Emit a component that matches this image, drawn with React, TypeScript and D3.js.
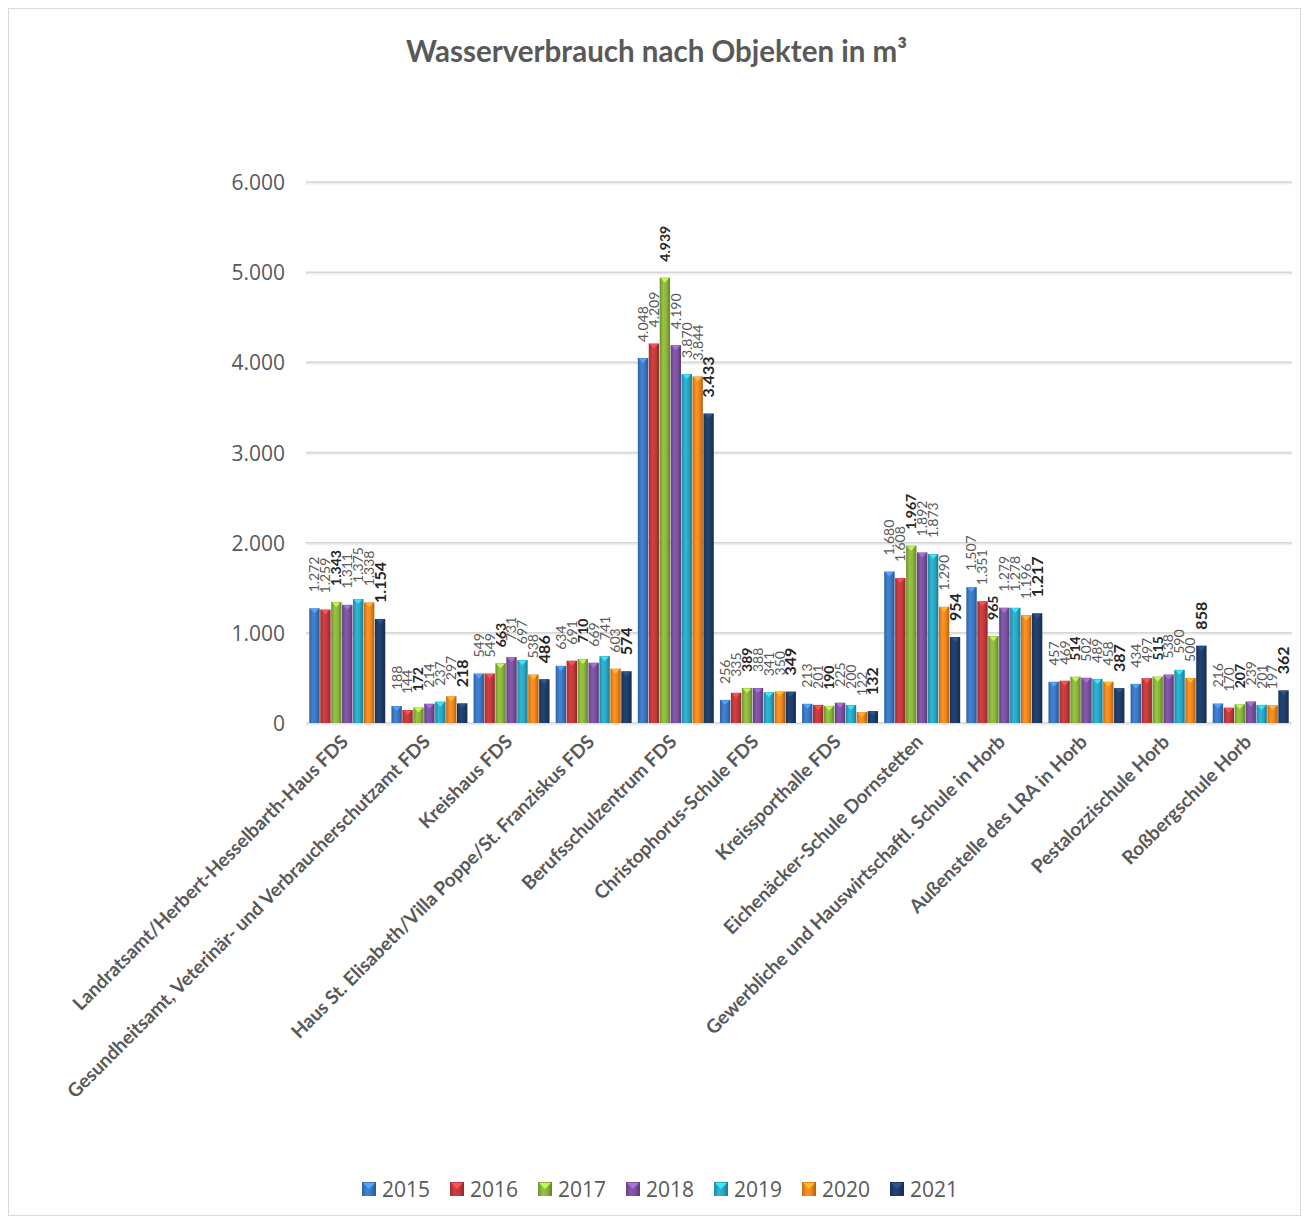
import React from 'react'
import * as d3 from 'd3'

const categories = [
  'Landratsamt/Herbert-Hesselbarth-Haus FDS',
  'Gesundheitsamt, Veterinär- und Verbraucherschutzamt FDS',
  'Kreishaus FDS',
  'Haus St. Elisabeth/Villa Poppe/St. Franziskus FDS',
  'Berufsschulzentrum FDS',
  'Christophorus-Schule FDS',
  'Kreissporthalle FDS',
  'Eichenäcker-Schule Dornstetten',
  'Gewerbliche und Hauswirtschaftl. Schule in Horb',
  'Außenstelle des LRA in Horb',
  'Pestalozzischule Horb',
  'Roßbergschule Horb',
]

const years = ['2015', '2016', '2017', '2018', '2019', '2020', '2021']

const v2015 = [1272, 188, 549, 634, 4048, 256, 213, 1680, 1507, 457, 434, 216]
const v2016 = [1259, 144, 549, 691, 4209, 335, 201, 1608, 1351, 469, 497, 170]
const v2017 = [1343, 172, 663, 710, 4939, 389, 190, 1967, 965, 514, 515, 207]
const v2018 = [1311, 214, 731, 669, 4190, 388, 225, 1892, 1279, 502, 538, 239]
const v2019 = [1375, 237, 697, 741, 3870, 341, 200, 1873, 1278, 489, 590, 201]
const v2020 = [1338, 297, 538, 603, 3844, 350, 122, 1290, 1196, 458, 500, 197]
const v2021 = [1154, 218, 486, 574, 3433, 349, 132, 954, 1217, 387, 858, 362]

const series = [v2015, v2016, v2017, v2018, v2019, v2020, v2021]

const yTicks = [0, 1000, 2000, 3000, 4000, 5000, 6000]

const colors = ['#3b78c4', '#c23a3c', '#8bb43d', '#7b519f', '#2aa7c3', '#f0871e', '#1f3d69']

const W = 1293
const H = 1208
const FONT = 'Lato, "Open Sans", sans-serif'

const fmt = (v: number) => {
  const s = String(v)
  return s.length > 3 ? s.slice(0, s.length - 3) + '.' + s.slice(-3) : s
}

export default function App() {
  const plotLeft = 298
  const plotRight = 1284
  const y = d3.scaleLinear().domain([0, 6000]).range([715, 174])
  const x0 = d3.scaleBand<string>().domain(categories).range([plotLeft, plotRight]).paddingInner(0.075).paddingOuter(0.04)
  const x1 = d3.scaleBand<string>().domain(years).range([0, x0.bandwidth()]).paddingInner(0.05)

  const legendX = d3.scaleBand<string>().domain(years).range([354, 354 + 88 * 7])

  return (
    <svg width={W} height={H} style={{ display: 'block', fontFamily: FONT }}>
      <defs>
        {colors.map((c, i) => {
          const base = d3.color(c)!
          return (
            <linearGradient key={i} id={`g${i}`} x1="0" x2="1" y1="0" y2="0">
              <stop offset="0%" stopColor={base.darker(0.6).toString()} />
              <stop offset="35%" stopColor={base.brighter(0.25).toString()} />
              <stop offset="65%" stopColor={base.toString()} />
              <stop offset="100%" stopColor={base.darker(0.9).toString()} />
            </linearGradient>
          )
        })}
      </defs>
      <rect x={0.5} y={0.5} width={W - 1} height={H - 1} fill="#fff" stroke="#d9d9d9" />

      <text x={W / 2 + 2} y={54} textAnchor="middle" fontSize={29.5} fontWeight="bold" fill="#595959">
        Wasserverbrauch nach Objekten in m³
      </text>

      {/* gridlines */}
      {yTicks.map(t => (
        <g key={t}>
          <line x1={plotLeft} x2={plotRight} y1={y(t) + 1.5} y2={y(t) + 1.5} stroke="#efefef" strokeWidth={2} />
          <line x1={plotLeft} x2={plotRight} y1={y(t)} y2={y(t)} stroke="#d6d6d6" strokeWidth={1.5} />
          <text x={277} y={y(t) + 8} textAnchor="end" fontSize={21} fill="#595959" fontFamily='"Open Sans", sans-serif'>{fmt(t)}</text>
        </g>
      ))}

      {/* bars */}
      {categories.map((cat, ci) => (
        <g key={cat} transform={`translate(${x0(cat)},0)`}>
          {series.map((s, si) => {
            const bx = x1(years[si])!
            const bw = x1.bandwidth()
            const top = y(s[ci])
            const base = d3.color(colors[si])!
            return (
              <g key={si}>
                <rect x={bx} y={top} width={bw} height={y(0) - top} fill={`url(#g${si})`} />
                <polygon
                  points={`${bx + 1},${top + 0.5} ${bx + bw - 1},${top + 0.5} ${bx + bw / 2},${top + 5}`}
                  fill={base.brighter(0.9).toString()}
                />
              </g>
            )
          })}
          {series.map((s, si) => {
            const cx = x1(years[si])! + x1.bandwidth() / 2
            const top = y(s[ci])
            const bold = si === 2 || si === 6
            const size = si === 6 ? 16 : 14
            return (
              <text
                key={'l' + si}
                transform={`translate(${cx + size * 0.35},${top - 16}) rotate(-90)`}
                fontSize={size}
                fontWeight={bold ? 'bold' : 'normal'}
                fill={bold ? '#262626' : '#595959'}
              >
                {fmt(s[ci])}
              </text>
            )
          })}
        </g>
      ))}

      {/* category labels */}
      {categories.map(cat => {
        const cx = x0(cat)! + x0.bandwidth() / 2
        return (
          <text
            key={'c' + cat}
            transform={`translate(${cx + 2},${y(0) + 20}) rotate(-45)`}
            textAnchor="end"
            fontSize={19}
            fontWeight="bold"
            fill="#595959"
          >
            {cat}
          </text>
        )
      })}

      {/* legend */}
      {years.map((yr, i) => {
        const lx = legendX(yr)!
        const base = d3.color(colors[i])!
        return (
          <g key={'lg' + yr}>
            <rect x={lx} y={1174} width={14} height={14} fill={`url(#g${i})`} />
            <polygon points={`${lx + 1},${1175} ${lx + 13},${1175} ${lx + 7},${1181}`} fill={base.brighter(0.9).toString()} />
            <text x={lx + 20} y={1189} fontSize={21} fill="#595959" fontFamily='"Open Sans", sans-serif'>{yr}</text>
          </g>
        )
      })}
    </svg>
  )
}
